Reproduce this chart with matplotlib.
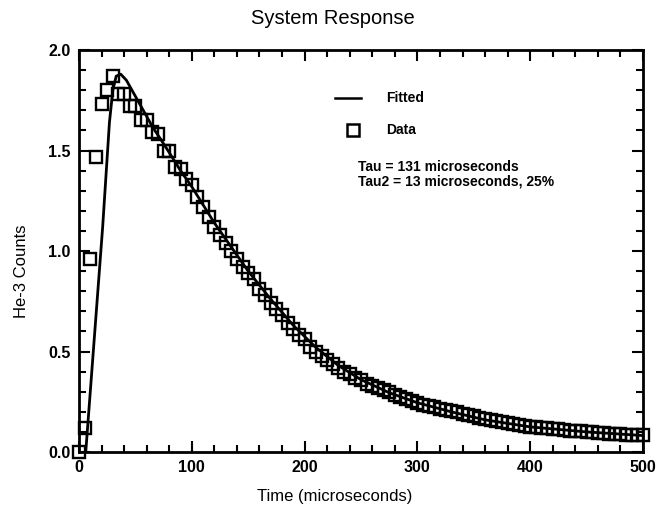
import matplotlib
matplotlib.use("Agg")
import matplotlib.pyplot as plt
from matplotlib.ticker import MultipleLocator

plt.rcParams['font.family'] = ['Liberation Sans', 'DejaVu Sans']

# Measured He-3 counts, sampled every 5 microseconds
time_us = list(range(0, 505, 5))
counts = [
    0.00, 0.12, 0.96, 1.47, 1.73, 1.80, 1.87, 1.78, 1.78, 1.72,
    1.72, 1.65, 1.65, 1.59, 1.58, 1.50, 1.50, 1.42, 1.41, 1.36,
    1.33, 1.27, 1.22, 1.17, 1.12, 1.08, 1.04, 1.00, 0.96, 0.92,
    0.89, 0.86, 0.81, 0.78, 0.74, 0.71, 0.68, 0.64, 0.61, 0.58,
    0.56, 0.52, 0.50, 0.48, 0.46, 0.44, 0.42, 0.40, 0.39, 0.37,
    0.36, 0.34, 0.33, 0.32, 0.31, 0.30, 0.285, 0.275, 0.265, 0.255,
    0.245, 0.235, 0.228, 0.222, 0.215, 0.21, 0.205, 0.198, 0.19, 0.183,
    0.177, 0.17, 0.165, 0.16, 0.153, 0.15, 0.145, 0.14, 0.135, 0.13,
    0.125, 0.122, 0.12, 0.118, 0.115, 0.112, 0.11, 0.107, 0.105, 0.103,
    0.10, 0.098, 0.096, 0.094, 0.092, 0.09, 0.089, 0.087, 0.086, 0.085,
    0.084,
]

# Fitted response curve
fit_time = [6, 21, 27, 30, 33, 37, 42, 47, 57, 66, 72, 80, 90, 100, 110,
            120, 135, 150, 170, 190, 210, 230, 250, 275, 300, 330, 360,
            400, 450, 500]
fit_counts = [0.0, 1.12, 1.64, 1.80, 1.87, 1.88, 1.85, 1.80, 1.70, 1.61,
              1.56, 1.49, 1.40, 1.32, 1.23, 1.14, 1.02, 0.90, 0.76, 0.63,
              0.52, 0.43, 0.36, 0.295, 0.245, 0.20, 0.16, 0.125, 0.10, 0.082]

x_ticks = [0, 100, 200, 300, 400, 500]
y_ticks = [0.0, 0.5, 1.0, 1.5, 2.0]

fig = plt.figure(figsize=(6.62, 5.18), dpi=100)
ax = fig.add_axes([0.1193, 0.1274, 0.852, 0.776])

ax.plot(fit_time, fit_counts, color='black', linewidth=2.0, zorder=3)
ax.plot(time_us, counts, linestyle='none', marker='s', markersize=8.5,
        markerfacecolor='none', markeredgecolor='black',
        markeredgewidth=1.7, clip_on=False, zorder=4)

ax.set_xlim(0, 500)
ax.set_ylim(0, 2.0)
ax.set_xticks(x_ticks)
ax.set_xticklabels([str(v) for v in x_ticks])
ax.set_yticks(y_ticks)
ax.set_yticklabels([f"{v:.1f}" for v in y_ticks])
ax.xaxis.set_minor_locator(MultipleLocator(20))
ax.yaxis.set_minor_locator(MultipleLocator(0.1))
ax.tick_params(which='both', direction='in', top=True, right=True,
               width=1.5, labelsize=11.5, pad=6)
ax.tick_params(which='major', length=8)
ax.tick_params(which='minor', length=5)
for lbl in ax.get_xticklabels() + ax.get_yticklabels():
    lbl.set_fontweight('bold')
for sp in ax.spines.values():
    sp.set_linewidth(2.0)

fig.text(0.503, 0.965, "System Response", fontsize=14.5, ha='center',
         va='center')
fig.text(0.506, 0.042, "Time (microseconds)", fontsize=12, ha='center',
         va='center')
fig.text(0.032, 0.477, "He-3 Counts", fontsize=12, ha='center',
         va='center', rotation=90)

# Legend and fit parameters
ax.plot([227, 250], [1.762, 1.762], color='black', linewidth=1.8)
ax.text(272, 1.762, "Fitted", fontsize=10, fontweight='bold', va='center')
ax.plot([243], [1.603], linestyle='none', marker='s', markersize=8,
        markerfacecolor='none', markeredgecolor='black', markeredgewidth=1.8)
ax.text(272, 1.603, "Data", fontsize=10, fontweight='bold', va='center')
ax.text(247, 1.42, "Tau = 131 microseconds", fontsize=10,
        fontweight='bold', va='center')
ax.text(247, 1.345, "Tau2 = 13 microseconds, 25%", fontsize=10,
        fontweight='bold', va='center')

fig.savefig("out.png", dpi=100)
